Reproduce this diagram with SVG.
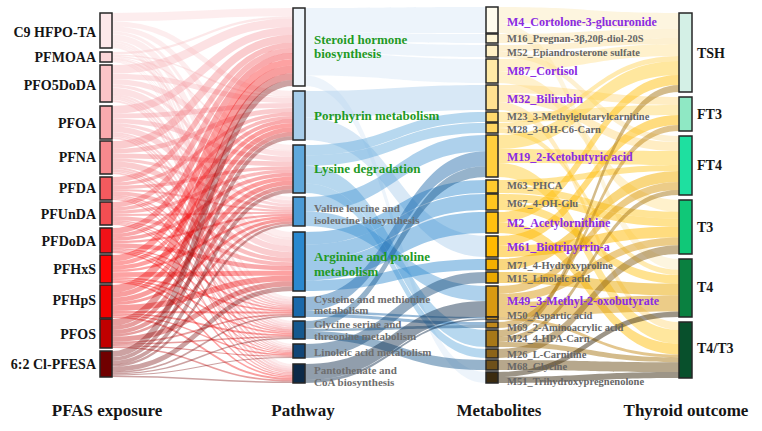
<svg xmlns="http://www.w3.org/2000/svg" width="762" height="431" viewBox="0 0 762 431">
<style>
.bg{fill:#fff}
.n{stroke:#262626;stroke-width:1.5}
text{font-family:"Liberation Serif","Times New Roman",serif;font-weight:bold}
.L{font-size:14px;text-anchor:end;fill:#151515}
.pg{font-size:13px;fill:#1f9a25}
.pgr{font-size:11px;fill:#6e6e6e}
.mp{font-size:12px;fill:#8a2be2}
.mg{font-size:10.5px;fill:#666}
.R{font-size:14px;fill:#151515}
.T{font-size:17px;text-anchor:middle;fill:#151515}
.rl path{fill:none;stroke-opacity:.38}
.bl path{fill-opacity:.45;stroke:none}
.yl path{fill-opacity:.5;stroke:none}
</style>
<rect class="bg" width="762" height="431"/>
<g id="connectors">
<g id="pfas-to-pathway">
<g class="rl" stroke="#f9cfd3">
<path d="M112 17.1C202.5 17.1 202.5 12.1 293 12.1" stroke-width="8.1"/>
<path d="M112 23.7C202.5 23.7 202.5 93.5 293 93.5" stroke-width="5.1"/>
<path d="M112 28.8C202.5 28.8 202.5 147.5 293 147.5" stroke-width="5"/>
<path d="M112 32.8C202.5 32.8 202.5 198.5 293 198.5" stroke-width="3"/>
<path d="M112 37.5C202.5 37.5 202.5 235.1 293 235.1" stroke-width="6.2"/>
<path d="M112 41.6C202.5 41.6 202.5 298 293 298" stroke-width="2.1"/>
<path d="M112 43.6C202.5 43.6 202.5 321.9 293 321.9" stroke-width="1.9"/>
<path d="M112 45.3C202.5 45.3 202.5 344.7 293 344.7" stroke-width="1.5"/>
<path d="M112 47C202.5 47 202.5 365 293 365" stroke-width="2"/>
</g>
<g class="rl" stroke="#f8c2c6">
<path d="M112 53.2C202.5 53.2 202.5 17.3 293 17.3" stroke-width="2.3"/>
<path d="M112 55.1C202.5 55.1 202.5 96.8 293 96.8" stroke-width="1.5"/>
<path d="M112 56.5C202.5 56.5 202.5 150.7 293 150.7" stroke-width="1.4"/>
<path d="M112 57.7C202.5 57.7 202.5 200.5 293 200.5" stroke-width="0.9"/>
<path d="M112 59C202.5 59 202.5 239 293 239" stroke-width="1.8"/>
<path d="M112 60.2C202.5 60.2 202.5 299.4 293 299.4" stroke-width="0.6"/>
<path d="M112 60.7C202.5 60.7 202.5 323.1 293 323.1" stroke-width="0.5"/>
<path d="M112 61.2C202.5 61.2 202.5 345.7 293 345.7" stroke-width="0.4"/>
<path d="M112 61.7C202.5 61.7 202.5 366.3 293 366.3" stroke-width="0.6"/>
</g>
<g class="rl" stroke="#f7b0b5">
<path d="M112 69.3C202.5 69.3 202.5 22.8 293 22.8" stroke-width="8.6"/>
<path d="M112 76.4C202.5 76.4 202.5 100.3 293 100.3" stroke-width="5.4"/>
<path d="M112 81.7C202.5 81.7 202.5 154.1 293 154.1" stroke-width="5.3"/>
<path d="M112 86C202.5 86 202.5 202.5 293 202.5" stroke-width="3.2"/>
<path d="M112 90.9C202.5 90.9 202.5 243.2 293 243.2" stroke-width="6.5"/>
<path d="M112 95.2C202.5 95.2 202.5 300.8 293 300.8" stroke-width="2.2"/>
<path d="M112 97.3C202.5 97.3 202.5 324.4 293 324.4" stroke-width="2"/>
<path d="M112 99.1C202.5 99.1 202.5 346.7 293 346.7" stroke-width="1.5"/>
<path d="M112 101C202.5 101 202.5 367.6 293 367.6" stroke-width="2.1"/>
</g>
<g class="rl" stroke="#f5979d">
<path d="M112 109.9C202.5 109.9 202.5 30.9 293 30.9" stroke-width="7.7"/>
<path d="M112 116.1C202.5 116.1 202.5 105.4 293 105.4" stroke-width="4.8"/>
<path d="M112 120.9C202.5 120.9 202.5 159.1 293 159.1" stroke-width="4.7"/>
<path d="M112 124.7C202.5 124.7 202.5 205.5 293 205.5" stroke-width="2.9"/>
<path d="M112 129.1C202.5 129.1 202.5 249.3 293 249.3" stroke-width="5.8"/>
<path d="M112 133C202.5 133 202.5 302.9 293 302.9" stroke-width="2"/>
<path d="M112 134.8C202.5 134.8 202.5 326.3 293 326.3" stroke-width="1.8"/>
<path d="M112 136.4C202.5 136.4 202.5 348.1 293 348.1" stroke-width="1.4"/>
<path d="M112 138.1C202.5 138.1 202.5 369.6 293 369.6" stroke-width="1.9"/>
</g>
<g class="rl" stroke="#f3797f">
<path d="M112 144.9C202.5 144.9 202.5 38.7 293 38.7" stroke-width="7.7"/>
<path d="M112 151.1C202.5 151.1 202.5 110.3 293 110.3" stroke-width="4.8"/>
<path d="M112 155.9C202.5 155.9 202.5 163.9 293 163.9" stroke-width="4.7"/>
<path d="M112 159.7C202.5 159.7 202.5 208.4 293 208.4" stroke-width="2.9"/>
<path d="M112 164.1C202.5 164.1 202.5 255.2 293 255.2" stroke-width="5.8"/>
<path d="M112 168C202.5 168 202.5 304.9 293 304.9" stroke-width="2"/>
<path d="M112 169.8C202.5 169.8 202.5 328.1 293 328.1" stroke-width="1.8"/>
<path d="M112 171.4C202.5 171.4 202.5 349.5 293 349.5" stroke-width="1.4"/>
<path d="M112 173.1C202.5 173.1 202.5 371.5 293 371.5" stroke-width="1.9"/>
</g>
<g class="rl" stroke="#f2585d">
<path d="M112 179.7C202.5 179.7 202.5 45.1 293 45.1" stroke-width="5.4"/>
<path d="M112 184.1C202.5 184.1 202.5 114.3 293 114.3" stroke-width="3.4"/>
<path d="M112 187.4C202.5 187.4 202.5 167.8 293 167.8" stroke-width="3.3"/>
<path d="M112 190C202.5 190 202.5 210.8 293 210.8" stroke-width="2"/>
<path d="M112 193.1C202.5 193.1 202.5 260.1 293 260.1" stroke-width="4"/>
<path d="M112 195.8C202.5 195.8 202.5 306.5 293 306.5" stroke-width="1.4"/>
<path d="M112 197.1C202.5 197.1 202.5 329.6 293 329.6" stroke-width="1.2"/>
<path d="M112 198.2C202.5 198.2 202.5 350.7 293 350.7" stroke-width="1"/>
<path d="M112 199.4C202.5 199.4 202.5 373 293 373" stroke-width="1.3"/>
</g>
<g class="rl" stroke="#f24a4f">
<path d="M112 204.7C202.5 204.7 202.5 50.5 293 50.5" stroke-width="5.4"/>
<path d="M112 209.1C202.5 209.1 202.5 117.7 293 117.7" stroke-width="3.4"/>
<path d="M112 212.4C202.5 212.4 202.5 171.2 293 171.2" stroke-width="3.3"/>
<path d="M112 215C202.5 215 202.5 212.8 293 212.8" stroke-width="2"/>
<path d="M112 218.1C202.5 218.1 202.5 264.2 293 264.2" stroke-width="4"/>
<path d="M112 220.8C202.5 220.8 202.5 307.9 293 307.9" stroke-width="1.4"/>
<path d="M112 222.1C202.5 222.1 202.5 330.8 293 330.8" stroke-width="1.2"/>
<path d="M112 223.2C202.5 223.2 202.5 351.6 293 351.6" stroke-width="1"/>
<path d="M112 224.4C202.5 224.4 202.5 374.4 293 374.4" stroke-width="1.3"/>
</g>
<g class="rl" stroke="#ee1c22">
<path d="M112 230.9C202.5 230.9 202.5 56 293 56" stroke-width="5.8"/>
<path d="M112 235.7C202.5 235.7 202.5 121.2 293 121.2" stroke-width="3.7"/>
<path d="M112 239.3C202.5 239.3 202.5 174.6 293 174.6" stroke-width="3.6"/>
<path d="M112 242.2C202.5 242.2 202.5 214.9 293 214.9" stroke-width="2.2"/>
<path d="M112 245.5C202.5 245.5 202.5 268.3 293 268.3" stroke-width="4.4"/>
<path d="M112 248.4C202.5 248.4 202.5 309.3 293 309.3" stroke-width="1.5"/>
<path d="M112 249.9C202.5 249.9 202.5 332.1 293 332.1" stroke-width="1.3"/>
<path d="M112 251.1C202.5 251.1 202.5 352.6 293 352.6" stroke-width="1"/>
<path d="M112 252.3C202.5 252.3 202.5 375.7 293 375.7" stroke-width="1.4"/>
</g>
<g class="rl" stroke="#fa0a0a">
<path d="M112 258.3C202.5 258.3 202.5 62.3 293 62.3" stroke-width="6.5"/>
<path d="M112 263.6C202.5 263.6 202.5 125.1 293 125.1" stroke-width="4.1"/>
<path d="M112 267.7C202.5 267.7 202.5 178.4 293 178.4" stroke-width="4"/>
<path d="M112 270.9C202.5 270.9 202.5 217.2 293 217.2" stroke-width="2.4"/>
<path d="M112 274.6C202.5 274.6 202.5 273.1 293 273.1" stroke-width="4.9"/>
<path d="M112 277.9C202.5 277.9 202.5 310.9 293 310.9" stroke-width="1.7"/>
<path d="M112 279.5C202.5 279.5 202.5 333.5 293 333.5" stroke-width="1.5"/>
<path d="M112 280.8C202.5 280.8 202.5 353.7 293 353.7" stroke-width="1.2"/>
<path d="M112 282.2C202.5 282.2 202.5 377.2 293 377.2" stroke-width="1.6"/>
</g>
<g class="rl" stroke="#ec0000">
<path d="M112 288.9C202.5 288.9 202.5 69.4 293 69.4" stroke-width="7.7"/>
<path d="M112 295.1C202.5 295.1 202.5 129.6 293 129.6" stroke-width="4.8"/>
<path d="M112 299.9C202.5 299.9 202.5 182.8 293 182.8" stroke-width="4.7"/>
<path d="M112 303.7C202.5 303.7 202.5 219.8 293 219.8" stroke-width="2.9"/>
<path d="M112 308.1C202.5 308.1 202.5 278.4 293 278.4" stroke-width="5.8"/>
<path d="M112 312C202.5 312 202.5 312.7 293 312.7" stroke-width="2"/>
<path d="M112 313.8C202.5 313.8 202.5 335.2 293 335.2" stroke-width="1.8"/>
<path d="M112 315.4C202.5 315.4 202.5 355 293 355" stroke-width="1.4"/>
<path d="M112 317.1C202.5 317.1 202.5 379 293 379" stroke-width="1.9"/>
</g>
<g class="rl" stroke="#c00000">
<path d="M112 322.4C202.5 322.4 202.5 76.6 293 76.6" stroke-width="6.8"/>
<path d="M112 327.9C202.5 327.9 202.5 134.1 293 134.1" stroke-width="4.2"/>
<path d="M112 332.1C202.5 332.1 202.5 187.2 293 187.2" stroke-width="4.1"/>
<path d="M112 335.4C202.5 335.4 202.5 222.5 293 222.5" stroke-width="2.5"/>
<path d="M112 339.3C202.5 339.3 202.5 283.9 293 283.9" stroke-width="5.1"/>
<path d="M112 342.7C202.5 342.7 202.5 314.6 293 314.6" stroke-width="1.7"/>
<path d="M112 344.3C202.5 344.3 202.5 336.8 293 336.8" stroke-width="1.6"/>
<path d="M112 345.7C202.5 345.7 202.5 356.3 293 356.3" stroke-width="1.2"/>
<path d="M112 347.2C202.5 347.2 202.5 380.7 293 380.7" stroke-width="1.6"/>
</g>
<g class="rl" stroke="#7a0a0a">
<path d="M112 354C202.5 354 202.5 83 293 83" stroke-width="6.1"/>
<path d="M112 359C202.5 359 202.5 138.1 293 138.1" stroke-width="3.8"/>
<path d="M112 362.8C202.5 362.8 202.5 191.1 293 191.1" stroke-width="3.7"/>
<path d="M112 365.7C202.5 365.7 202.5 224.9 293 224.9" stroke-width="2.3"/>
<path d="M112 369.2C202.5 369.2 202.5 288.7 293 288.7" stroke-width="4.6"/>
<path d="M112 372.2C202.5 372.2 202.5 316.2 293 316.2" stroke-width="1.6"/>
<path d="M112 373.7C202.5 373.7 202.5 338.3 293 338.3" stroke-width="1.4"/>
<path d="M112 375C202.5 375 202.5 357.5 293 357.5" stroke-width="1.1"/>
<path d="M112 376.3C202.5 376.3 202.5 382.3 293 382.3" stroke-width="1.5"/>
</g>
</g>
<g id="pathway-to-metabolite" class="bl">
<g fill="#d6e7f6">
<path d="M305 8C395.5 8 395.5 7 486 7L486 33C395.5 33 395.5 32.7 305 32.7Z"/>
<path d="M305 32.7C395.5 32.7 395.5 34 486 34L486 43C395.5 43 395.5 41.3 305 41.3Z"/>
<path d="M305 41.3C395.5 41.3 395.5 45 486 45L486 57C395.5 57 395.5 52.7 305 52.7Z"/>
<path d="M305 52.7C395.5 52.7 395.5 59 486 59L486 83C395.5 83 395.5 75.5 305 75.5Z"/>
<path d="M305 75.5C395.5 75.5 395.5 372 486 372L486 383C395.5 383 395.5 86 305 86Z"/>
</g>
<g fill="#a8cdea">
<path d="M305 91C395.5 91 395.5 85 486 85L486 110C395.5 110 395.5 117.6 305 117.6Z"/>
<path d="M305 117.6C395.5 117.6 395.5 236 486 236L486 257C395.5 257 395.5 140 305 140Z"/>
</g>
<g fill="#5fa8dc">
<path d="M305 145C395.5 145 395.5 112 486 112L486 122C395.5 122 395.5 155.4 305 155.4Z"/>
<path d="M305 155.4C395.5 155.4 395.5 123 486 123L486 133C395.5 133 395.5 165.8 305 165.8Z"/>
<path d="M305 165.8C395.5 165.8 395.5 330 486 330L486 347C395.5 347 395.5 183.5 305 183.5Z"/>
<path d="M305 183.5C395.5 183.5 395.5 349 486 349L486 358C395.5 358 395.5 193 305 193Z"/>
</g>
<g fill="#4b9ad5">
<path d="M305 197C395.5 197 395.5 135 486 135L486 151.2C395.5 151.2 395.5 211.5 305 211.5Z"/>
<path d="M305 211.5C395.5 211.5 395.5 286 486 286L486 301C395.5 301 395.5 226 305 226Z"/>
</g>
<g fill="#2a88cf">
<path d="M305 232C395.5 232 395.5 180 486 180L486 193C395.5 193 395.5 244.6 305 244.6Z"/>
<path d="M305 244.6C395.5 244.6 395.5 194 486 194L486 210C395.5 210 395.5 260.1 305 260.1Z"/>
<path d="M305 260.1C395.5 260.1 395.5 212 486 212L486 233C395.5 233 395.5 280.4 305 280.4Z"/>
<path d="M305 280.4C395.5 280.4 395.5 259 486 259L486 270C395.5 270 395.5 291 305 291Z"/>
</g>
<g fill="#1b67a8">
<path d="M305 297C395.5 297 395.5 151.2 486 151.2L486 166.3C395.5 166.3 395.5 311 305 311Z"/>
<path d="M305 311C395.5 311 395.5 317 486 317L486 318.5C395.5 318.5 395.5 314 305 314Z"/>
<path d="M305 314C395.5 314 395.5 322 486 322L486 325C395.5 325 395.5 317 305 317Z"/>
</g>
<g fill="#16568c">
<path d="M305 321C395.5 321 395.5 166.3 486 166.3L486 177C395.5 177 395.5 328.8 305 328.8Z"/>
<path d="M305 328.8C395.5 328.8 395.5 325 486 325L486 328C395.5 328 395.5 331.1 305 331.1Z"/>
<path d="M305 331.1C395.5 331.1 395.5 360 486 360L486 370C395.5 370 395.5 339 305 339Z"/>
</g>
<g fill="#124474">
<path d="M305 344C395.5 344 395.5 272 486 272L486 283C395.5 283 395.5 358 305 358Z"/>
</g>
<g fill="#0c2846">
<path d="M305 364C395.5 364 395.5 301 486 301L486 317C395.5 317 395.5 380 305 380Z"/>
<path d="M305 380C395.5 380 395.5 318.5 486 318.5L486 320C395.5 320 395.5 383 305 383Z"/>
</g>
</g>
<g id="metabolite-to-outcome" class="yl">
<path fill="#fbecc0" d="M498 7C588.5 7 588.5 13 679 13L679 29C588.5 29 588.5 23 498 23Z"/>
<path fill="#fbecc0" d="M498 23C588.5 23 588.5 259 679 259L679 269.7C588.5 269.7 588.5 33 498 33Z"/>
<path fill="#fbe6b0" d="M498 34C588.5 34 588.5 29 679 29L679 38C588.5 38 588.5 43 498 43Z"/>
<path fill="#fce2a4" d="M498 45C588.5 45 588.5 38 679 38L679 44C588.5 44 588.5 51 498 51Z"/>
<path fill="#fce2a4" d="M498 51C588.5 51 588.5 136 679 136L679 142C588.5 142 588.5 57 498 57Z"/>
<path fill="#ffe39a" d="M498 59C588.5 59 588.5 44 679 44L679 56C588.5 56 588.5 71 498 71Z"/>
<path fill="#ffe39a" d="M498 71C588.5 71 588.5 200 679 200L679 211.8C588.5 211.8 588.5 83 498 83Z"/>
<path fill="#ffdc88" d="M498 85C588.5 85 588.5 97 679 97L679 105C588.5 105 588.5 93 498 93Z"/>
<path fill="#ffdc88" d="M498 93C588.5 93 588.5 142 679 142L679 151C588.5 151 588.5 102 498 102Z"/>
<path fill="#ffdc88" d="M498 102C588.5 102 588.5 322 679 322L679 329.9C588.5 329.9 588.5 110 498 110Z"/>
<path fill="#ffd96e" d="M498 112C588.5 112 588.5 105 679 105L679 115C588.5 115 588.5 122 498 122Z"/>
<path fill="#ffd562" d="M498 123C588.5 123 588.5 56 679 56L679 61C588.5 61 588.5 128 498 128Z"/>
<path fill="#ffd562" d="M498 128C588.5 128 588.5 269.7 679 269.7L679 275.1C588.5 275.1 588.5 133 498 133Z"/>
<path fill="#ffcf3e" d="M498 135C588.5 135 588.5 61 679 61L679 75C588.5 75 588.5 149 498 149Z"/>
<path fill="#ffcf3e" d="M498 149C588.5 149 588.5 151 679 151L679 165C588.5 165 588.5 163 498 163Z"/>
<path fill="#ffcf3e" d="M498 163C588.5 163 588.5 329.9 679 329.9L679 343.7C588.5 343.7 588.5 177 498 177Z"/>
<path fill="#ffca2e" d="M498 180C588.5 180 588.5 165 679 165L679 171C588.5 171 588.5 186 498 186Z"/>
<path fill="#ffca2e" d="M498 186C588.5 186 588.5 211.8 679 211.8L679 218.7C588.5 218.7 588.5 193 498 193Z"/>
<path fill="#ffc51f" d="M498 194C588.5 194 588.5 218.7 679 218.7L679 226.6C588.5 226.6 588.5 202 498 202Z"/>
<path fill="#ffc51f" d="M498 202C588.5 202 588.5 275.1 679 275.1L679 283.7C588.5 283.7 588.5 210 498 210Z"/>
<path fill="#ffc010" d="M498 212C588.5 212 588.5 75 679 75L679 85C588.5 85 588.5 222 498 222Z"/>
<path fill="#ffc010" d="M498 222C588.5 222 588.5 343.7 679 343.7L679 354.5C588.5 354.5 588.5 233 498 233Z"/>
<path fill="#ffb900" d="M498 236C588.5 236 588.5 115 679 115L679 125C588.5 125 588.5 246 498 246Z"/>
<path fill="#ffb900" d="M498 246C588.5 246 588.5 226.6 679 226.6L679 237.4C588.5 237.4 588.5 257 498 257Z"/>
<path fill="#f4b000" d="M498 259C588.5 259 588.5 171 679 171L679 182C588.5 182 588.5 270 498 270Z"/>
<path fill="#eaa800" d="M498 272C588.5 272 588.5 283.7 679 283.7L679 295.5C588.5 295.5 588.5 283 498 283Z"/>
<path fill="#d99a12" d="M498 286C588.5 286 588.5 182 679 182L679 190C588.5 190 588.5 294 498 294Z"/>
<path fill="#d99a12" d="M498 294C588.5 294 588.5 237.4 679 237.4L679 245.3C588.5 245.3 588.5 302 498 302Z"/>
<path fill="#d99a12" d="M498 302C588.5 302 588.5 295.5 679 295.5L679 311.6C588.5 311.6 588.5 317 498 317Z"/>
<path fill="#c88e1e" d="M498 317C588.5 317 588.5 354.5 679 354.5L679 357.4C588.5 357.4 588.5 320 498 320Z"/>
<path fill="#c0881a" d="M498 322C588.5 322 588.5 125 679 125L679 131C588.5 131 588.5 328 498 328Z"/>
<path fill="#a77818" d="M498 330C588.5 330 588.5 85 679 85L679 92C588.5 92 588.5 337 498 337Z"/>
<path fill="#a77818" d="M498 337C588.5 337 588.5 190 679 190L679 195C588.5 195 588.5 342 498 342Z"/>
<path fill="#a77818" d="M498 342C588.5 342 588.5 357.4 679 357.4L679 362.3C588.5 362.3 588.5 347 498 347Z"/>
<path fill="#8c6419" d="M498 349C588.5 349 588.5 245.3 679 245.3L679 254C588.5 254 588.5 358 498 358Z"/>
<path fill="#6e5019" d="M498 360C588.5 360 588.5 362.3 679 362.3L679 372.1C588.5 372.1 588.5 370 498 370Z"/>
<path fill="#3b2b10" d="M498 372C588.5 372 588.5 311.6 679 311.6L679 317C588.5 317 588.5 377 498 377Z"/>
<path fill="#3b2b10" d="M498 377C588.5 377 588.5 372.1 679 372.1L679 378C588.5 378 588.5 383 498 383Z"/>
</g>
</g>
<g id="pfas-nodes">
<g id="n-c9hfpota"><rect class="n" x="100" y="13" width="12" height="35" fill="#fde8ea"/><text class="L" x="96" y="37">C9 HFPO-TA</text></g>
<g id="n-pfmoaa"><rect class="n" x="100" y="52" width="12" height="10" fill="#fbd6d9"/><text class="L" x="96" y="62">PFMOAA</text></g>
<g id="n-pfo5doda"><rect class="n" x="100" y="65" width="12" height="37" fill="#fbc4c7"/><text class="L" x="96" y="90">PFO5DoDA</text></g>
<g id="n-pfoa"><rect class="n" x="100" y="106" width="12" height="33" fill="#f9aaae"/><text class="L" x="96" y="128">PFOA</text></g>
<g id="n-pfna"><rect class="n" x="100" y="141" width="12" height="33" fill="#f7898e"/><text class="L" x="96" y="162">PFNA</text></g>
<g id="n-pfda"><rect class="n" x="100" y="177" width="12" height="23" fill="#f45a5e"/><text class="L" x="96" y="193">PFDA</text></g>
<g id="n-pfunda"><rect class="n" x="100" y="202" width="12" height="23" fill="#f34e52"/><text class="L" x="96" y="219">PFUnDA</text></g>
<g id="n-pfdoda"><rect class="n" x="100" y="228" width="12" height="25" fill="#f01218"/><text class="L" x="96" y="246">PFDoDA</text></g>
<g id="n-pfhxs"><rect class="n" x="100" y="255" width="12" height="28" fill="#ff0505"/><text class="L" x="96" y="274">PFHxS</text></g>
<g id="n-pfhps"><rect class="n" x="100" y="285" width="12" height="33" fill="#f00000"/><text class="L" x="96" y="305">PFHpS</text></g>
<g id="n-pfos"><rect class="n" x="100" y="319" width="12" height="29" fill="#c00000"/><text class="L" x="96" y="339">PFOS</text></g>
<g id="n-clpfesa"><rect class="n" x="100" y="351" width="12" height="26" fill="#700000"/><text class="L" x="96" y="369">6:2 Cl-PFESA</text></g>
</g>
<g id="pathway-nodes">
<g id="n-steroid"><rect class="n" x="293" y="8" width="12" height="78" fill="#eef5fb"/><text class="pg" x="314" y="44">Steroid hormone</text><text class="pg" x="314" y="58">biosynthesis</text></g>
<g id="n-porphyrin"><rect class="n" x="293" y="91" width="12" height="49" fill="#a8cdea"/><text class="pg" x="314" y="120">Porphyrin metabolism</text></g>
<g id="n-lysine"><rect class="n" x="293" y="145" width="12" height="48" fill="#5fa8dc"/><text class="pg" x="314" y="173">Lysine degradation</text></g>
<g id="n-valine"><rect class="n" x="293" y="197" width="12" height="29" fill="#4a9ad6"/><text class="pgr" x="314" y="212">Valine leucine and</text><text class="pgr" x="314" y="224">isoleucine biosynthesis</text></g>
<g id="n-arginine"><rect class="n" x="293" y="232" width="12" height="59" fill="#2a88cf"/><text class="pg" x="314" y="261">Arginine and proline</text><text class="pg" x="314" y="276">metabolism</text></g>
<g id="n-cysteine"><rect class="n" x="293" y="297" width="12" height="20" fill="#1a68aa"/><text class="pgr" x="314" y="303">Cysteine and methionine</text><text class="pgr" x="314" y="314">metabolism</text></g>
<g id="n-glycine"><rect class="n" x="293" y="321" width="12" height="18" fill="#15588e"/><text class="pgr" x="314" y="328">Glycine serine and</text><text class="pgr" x="314" y="340">threonine metabolism</text></g>
<g id="n-linoleic"><rect class="n" x="293" y="344" width="12" height="14" fill="#124576"/><text class="pgr" x="314" y="356">Linoleic acid metabolism</text></g>
<g id="n-pantothenate"><rect class="n" x="293" y="364" width="12" height="19" fill="#0d2a48"/><text class="pgr" x="314" y="374">Pantothenate and</text><text class="pgr" x="314" y="386">CoA biosynthesis</text></g>
</g>
<g id="metabolite-nodes">
<g id="n-m4"><rect class="n" x="486" y="7" width="12" height="26" fill="#fffcee"/><text class="mp" x="507" y="26">M4_Cortolone-3-glucuronide</text></g>
<g id="n-m16"><rect class="n" x="486" y="34" width="12" height="9" fill="#fff6d6"/><text class="mg" x="507" y="42">M16_Pregnan-3β,20β-diol-20S</text></g>
<g id="n-m52"><rect class="n" x="486" y="45" width="12" height="12" fill="#fff0c4"/><text class="mg" x="507" y="56">M52_Epiandrosterone sulfate</text></g>
<g id="n-m87"><rect class="n" x="486" y="59" width="12" height="24" fill="#ffeaa6"/><text class="mp" x="507" y="74.5">M87_Cortisol</text></g>
<g id="n-m32"><rect class="n" x="486" y="85" width="12" height="25" fill="#ffe190"/><text class="mp" x="507" y="103">M32_Bilirubin</text></g>
<g id="n-m23"><rect class="n" x="486" y="112" width="12" height="10" fill="#ffd96e"/><text class="mg" x="507" y="119.5">M23_3-Methylglutarylcarnitine</text></g>
<g id="n-m28"><rect class="n" x="486" y="123" width="12" height="10" fill="#ffd562"/><text class="mg" x="507" y="133">M28_3-OH-C6-Carn</text></g>
<g id="n-m19"><rect class="n" x="486" y="135" width="12" height="42" fill="#ffcf3e"/><text class="mp" x="507" y="161">M19_2-Ketobutyric acid</text></g>
<g id="n-m63"><rect class="n" x="486" y="180" width="12" height="13" fill="#ffca2e"/><text class="mg" x="507" y="189">M63_PHCA</text></g>
<g id="n-m67"><rect class="n" x="486" y="194" width="12" height="16" fill="#ffc51f"/><text class="mg" x="507" y="207">M67_4-OH-Glu</text></g>
<g id="n-m2"><rect class="n" x="486" y="212" width="12" height="21" fill="#ffc010"/><text class="mp" x="507" y="227">M2_Acetylornithine</text></g>
<g id="n-m61"><rect class="n" x="486" y="236" width="12" height="21" fill="#ffb900"/><text class="mp" x="507" y="251">M61_Biotripyrrin-a</text></g>
<g id="n-m71"><rect class="n" x="486" y="259" width="12" height="11" fill="#f4b000"/><text class="mg" x="507" y="268.5">M71_4-Hydroxyproline</text></g>
<g id="n-m15"><rect class="n" x="486" y="272" width="12" height="11" fill="#eaa800"/><text class="mg" x="507" y="281.5">M15_Linoleic acid</text></g>
<g id="n-m49"><rect class="n" x="486" y="286" width="12" height="31" fill="#d99a12"/><text class="mp" x="507" y="305">M49_3-Methyl-2-oxobutyrate</text></g>
<g id="n-m50"><rect class="n" x="486" y="317" width="12" height="3" fill="#c88e1e"/><text class="mg" x="507" y="318.5">M50_Aspartic acid</text></g>
<g id="n-m69"><rect class="n" x="486" y="322" width="12" height="6" fill="#c0881a"/><text class="mg" x="507" y="330.5">M69_2-Aminoacrylic acid</text></g>
<g id="n-m24"><rect class="n" x="486" y="330" width="12" height="17" fill="#a77818"/><text class="mg" x="507" y="342">M24_4-HPA-Carn</text></g>
<g id="n-m26"><rect class="n" x="486" y="349" width="12" height="9" fill="#8c6419"/><text class="mg" x="507" y="357.5">M26_L-Carnitine</text></g>
<g id="n-m68"><rect class="n" x="486" y="360" width="12" height="10" fill="#6e5019"/><text class="mg" x="507" y="369.5">M68_Glycine</text></g>
<g id="n-m51"><rect class="n" x="486" y="372" width="12" height="11" fill="#3b2b10"/><text class="mg" x="507" y="384.5">M51_Trihydroxypregnenolone</text></g>
</g>
<g id="outcome-nodes">
<g id="n-tsh"><rect class="n" x="679" y="13" width="13" height="79" fill="#d4f0e6"/><text class="R" x="697" y="58">TSH</text></g>
<g id="n-ft3"><rect class="n" x="679" y="97" width="13" height="34" fill="#8fe8c4"/><text class="R" x="697" y="119">FT3</text></g>
<g id="n-ft4"><rect class="n" x="679" y="136" width="13" height="59" fill="#1ee0a0"/><text class="R" x="697" y="170">FT4</text></g>
<g id="n-t3"><rect class="n" x="679" y="200" width="13" height="54" fill="#10c878"/><text class="R" x="697" y="232">T3</text></g>
<g id="n-t4"><rect class="n" x="679" y="259" width="13" height="58" fill="#0a8040"/><text class="R" x="697" y="292">T4</text></g>
<g id="n-t4t3"><rect class="n" x="679" y="322" width="13" height="56" fill="#08502c"/><text class="R" x="697" y="353">T4/T3</text></g>
</g>
<g id="axis-titles">
<text class="T" x="107" y="416">PFAS exposure</text>
<text class="T" x="303" y="416">Pathway</text>
<text class="T" x="499" y="416">Metabolites</text>
<text class="T" x="686" y="416">Thyroid outcome</text>
</g>
</svg>
